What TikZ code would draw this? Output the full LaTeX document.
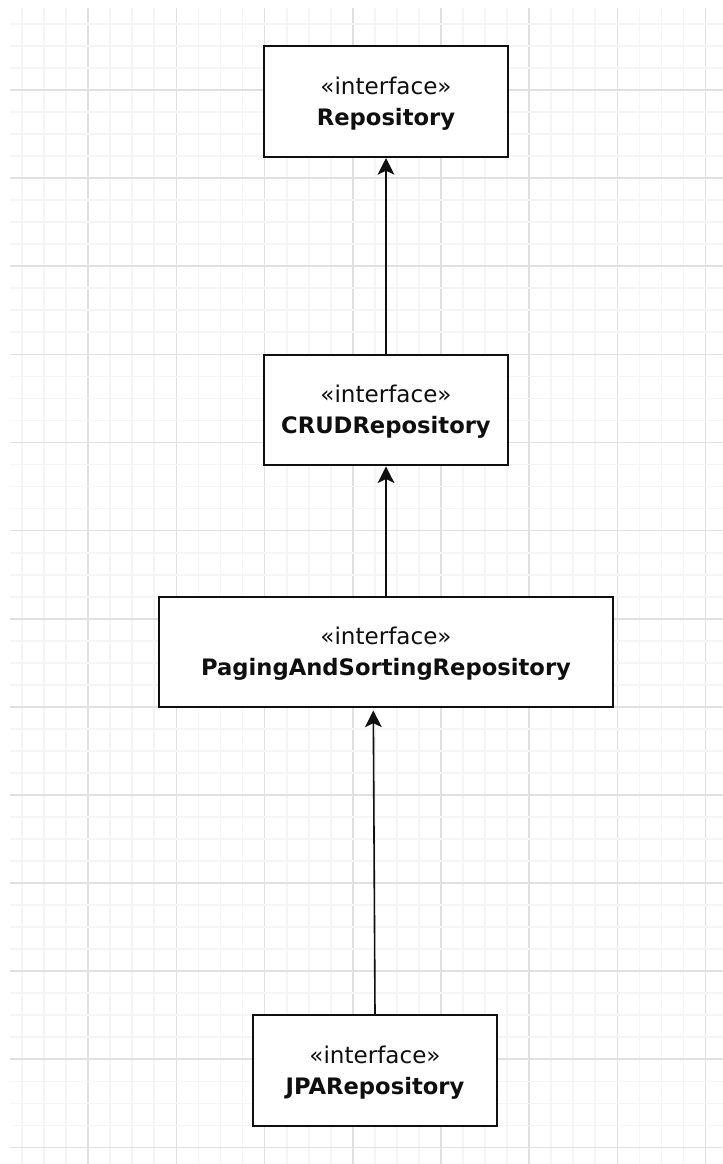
\documentclass[tikz,border=0pt]{standalone}
\usepackage{fontspec}
\setmainfont{DejaVu Sans}
\usetikzlibrary{arrows.meta,calc}
\definecolor{gridminor}{HTML}{F5F5F5}
\definecolor{gridmajor}{HTML}{E0E0E0}
\definecolor{ink}{HTML}{0F0F0F}
\newcommand{\stereo}{{\fontsize{17.3}{23.25}\selectfont\rule{0pt}{16pt}\guillemotleft interface\guillemotright}}
\newcommand{\iname}[1]{{\fontsize{17}{23.25}\selectfont\bfseries #1}}
\tikzset{
  iface/.style={draw=ink, line width=1.5pt, fill=white, align=center,
    text=ink, inner sep=0pt,
    font=\fontsize{17}{23.25}\selectfont},
  inherit/.style={draw=ink, line width=1.2pt,
    -{Stealth[length=12.5pt, width=12.5pt, inset=3pt]}},
  gridline/.style={line width=1.3pt},
}
\begin{document}
\begin{tikzpicture}[x=0.75pt, y=-0.75pt]
  % canvas and background grid (coordinates in pixels, y downwards)
  \useasboundingbox (0,0) rectangle (723,1164);
  \fill[white] (0,0) rectangle (723,1164);
  \foreach \i in {1,...,32} {
    \pgfmathsetmacro{\gx}{22.05*\i}
    \pgfmathtruncatemacro{\m}{mod(\i,4)}
    \ifnum\m=0\relax
      \draw[gridline, gridmajor] (\gx,8) -- (\gx,1164);
    \else
      \draw[gridline, gridminor] (\gx,8) -- (\gx,1164);
    \fi
  }
  \foreach \j in {1,...,52} {
    \pgfmathsetmacro{\gy}{1.9+22.03*\j}
    \pgfmathtruncatemacro{\m}{mod(\j,4)}
    \ifnum\m=0\relax
      \draw[gridline, gridmajor] (10,\gy) -- (723,\gy);
    \else
      \draw[gridline, gridminor] (10,\gy) -- (723,\gy);
    \fi
  }

  % interface boxes
  \node[iface, minimum width=183pt, minimum height=83.25pt] (repo) at (386,101.5)
    {\stereo\\\iname{Repository}};
  \node[iface, minimum width=183pt, minimum height=83pt] (crud) at (386,410)
    {\stereo\\\iname{CRUDRepository}};
  \node[iface, minimum width=340.5pt, minimum height=82.5pt] (pas) at (386,652)
    {\stereo\\\iname{PagingAndSortingRepository}};
  \node[iface, minimum width=183pt, minimum height=83.25pt] (jpa) at (375,1070.5)
    {\stereo\\\iname{JPARepository}};

  % inheritance connectors
  \draw[inherit] (crud.north) -- (repo.south);
  \draw[inherit] (pas.north) -- (crud.south);
  \draw[inherit] (jpa.north) -- ($(pas.south)+(-12.7,2.5)$);
\end{tikzpicture}
\end{document}
